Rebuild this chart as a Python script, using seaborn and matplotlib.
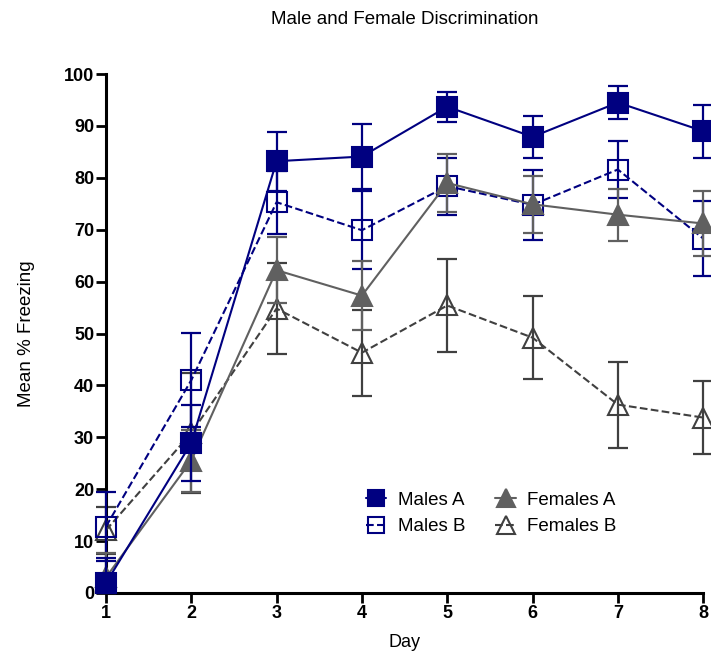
import numpy as np
import pandas as pd
import matplotlib
matplotlib.use("Agg")
import matplotlib.pyplot as plt
import seaborn as sns

sns.set_style("ticks")
plt.rcParams['font.family'] = ['Liberation Sans', 'DejaVu Sans']
plt.rcParams['text.color'] = 'black'
plt.rcParams['axes.labelcolor'] = 'black'
plt.rcParams['xtick.color'] = 'black'
plt.rcParams['ytick.color'] = 'black'
plt.rcParams['axes.edgecolor'] = 'black'

days = [1, 2, 3, 4, 5, 6, 7, 8]

males_a = [1.9, 28.9, 83.2, 84.1, 93.7, 87.9, 94.5, 89.0]
males_a_sem = [4.8, 7.3, 5.7, 6.2, 2.9, 4.0, 3.1, 5.1]

males_b = [12.8, 41.0, 75.3, 69.9, 78.4, 74.8, 81.6, 68.3]
males_b_sem = [6.6, 9.1, 6.1, 7.5, 5.5, 6.7, 5.4, 7.2]

females_a = [3.0, 25.5, 62.2, 57.3, 79.0, 74.9, 72.9, 71.2]
females_a_sem = [4.7, 6.0, 6.3, 6.6, 5.6, 5.5, 5.0, 6.2]

females_b = [12.1, 30.8, 54.8, 46.3, 55.4, 49.2, 36.3, 33.8]
females_b_sem = [4.5, 11.5, 8.8, 8.3, 9.0, 8.0, 8.3, 7.0]

navy = '#000080'
grey = '#606060'
dark = '#404040'

# label, values, sem, colour, linestyle, marker, facecolour
series = [
    ("Females B", females_b, females_b_sem, dark, '--', '^', 'none'),
    ("Males B", males_b, males_b_sem, navy, '--', 's', 'none'),
    ("Females A", females_a, females_a_sem, grey, '-', '^', grey),
    ("Males A", males_a, males_a_sem, navy, '-', 's', navy),
]

fig = plt.figure(figsize=(7.11, 6.58), dpi=100)
ax = fig.add_axes([0.149, 0.0988, 0.840, 0.7887])

handles = {}
for i, (label, vals, sem, col, ls, mk, fc) in enumerate(series):
    df = pd.DataFrame({"Day": days, "Freezing": vals})
    # bars stop at the x axis
    lower = np.minimum(sem, vals)
    ax.errorbar(days, vals, yerr=[lower, sem], fmt='none', ecolor=col,
                elinewidth=1.6, capsize=7, capthick=1.6, zorder=2 + i * 2,
                clip_on=False)
    sns.lineplot(data=df, x="Day", y="Freezing", ax=ax, color=col, linestyle=ls,
                 linewidth=1.5, marker=mk, markersize=14 if mk == 's' else 15,
                 markerfacecolor=fc, markeredgecolor=col, markeredgewidth=1.5,
                 zorder=3 + i * 2, clip_on=False, label=label)
    handles[label] = ax.lines[-1]

ax.set_xlim(1, 8)
ax.set_ylim(0, 100)
ax.set_xticks(days)
ax.set_yticks(np.arange(0, 101, 10))
for lbl in ax.get_xticklabels() + ax.get_yticklabels():
    lbl.set_fontweight('bold')
    lbl.set_fontsize(13)
ax.tick_params(width=2, length=7, direction='out', pad=1.5)
for s in ['left', 'bottom']:
    ax.spines[s].set_linewidth(2.2)
for s in ['top', 'right']:
    ax.spines[s].set_visible(False)

ax.set_xlabel("Day", fontsize=13, labelpad=9)
ax.set_ylabel("Mean % Freezing", fontsize=13.5, labelpad=21)
ax.set_title("Male and Female Discrimination", fontsize=13.5, pad=36)

order = ["Males A", "Males B", "Females A", "Females B"]
ax.legend([handles[k] for k in order], order, ncol=2, frameon=False,
          loc='center', bbox_to_anchor=(0.645, 0.153), fontsize=13.5,
          handlelength=1.1, columnspacing=1.6, labelspacing=0.5,
          handletextpad=0.6, markerscale=0.85)

fig.savefig("out.png", dpi=100)
